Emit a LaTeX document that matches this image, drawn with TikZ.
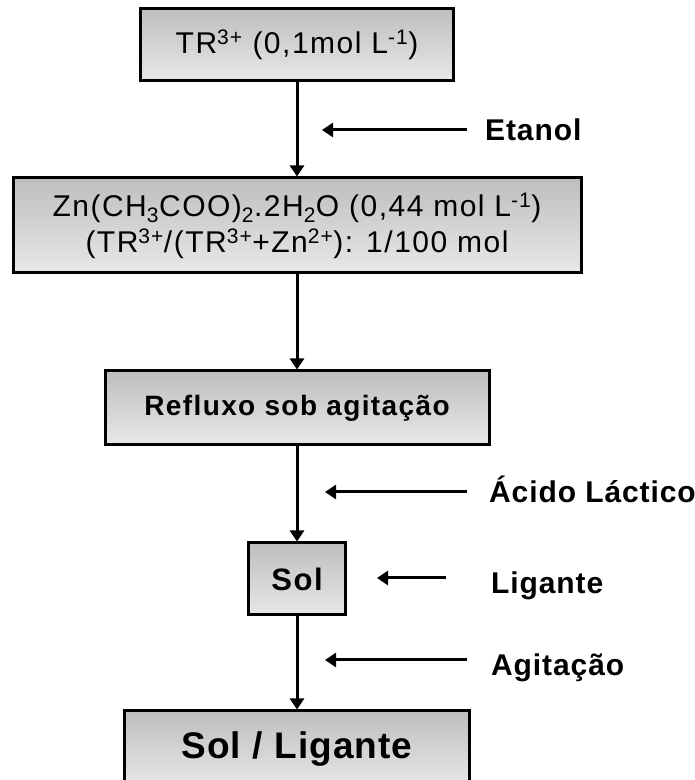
\documentclass[tikz,border=0pt]{standalone}
\usepackage{fontspec}
\setmainfont{Liberation Sans}
\newfontfamily\boxfont[LetterSpace=5]{Liberation Sans}
\newfontfamily\lblfont[LetterSpace=3]{Liberation Sans}
\usetikzlibrary{arrows.meta}
\definecolor{boxtop}{RGB}{190,190,190}
\definecolor{boxbot}{RGB}{232,232,232}
\begin{document}
\begin{tikzpicture}[x=1pt,y=1pt,
  flowbox/.style={draw=black,line width=3pt,top color=boxtop,bottom color=boxbot,
    inner sep=0pt,align=center,font=\boxfont\fontsize{30}{36}\selectfont},
  conn/.style={line width=3pt,-{Triangle[length=11pt,width=14pt]}},
  lbl/.style={anchor=base west,inner sep=0pt,font=\lblfont\bfseries\fontsize{30}{36}\selectfont}]
\useasboundingbox (0,0) rectangle (695,780);
\node[flowbox,minimum width=313pt,minimum height=72pt] (b1) at (297,735)
  {TR\textsuperscript{3+} (0,1mol L\textsuperscript{-1})};
\node[flowbox,minimum width=568pt,minimum height=95pt] (b2) at (297,554.5)
  {Zn(CH\textsubscript{3}COO)\textsubscript{2}.2H\textsubscript{2}O (0,44 mol L\textsuperscript{-1})\\
   (TR\textsuperscript{3+}/(TR\textsuperscript{3+}+Zn\textsuperscript{2+}): 1/100 mol};
\node[flowbox,minimum width=384pt,minimum height=74pt,font=\boxfont\bfseries\fontsize{28}{34}\selectfont] (b3) at (297,372)
  {Refluxo sob agitação};
\node[flowbox,minimum width=97pt,minimum height=72pt,font=\boxfont\bfseries\fontsize{31}{36}\selectfont] (b4) at (297,201)
  {Sol};
\node[flowbox,minimum width=345pt,minimum height=76pt,font=\lblfont\bfseries\fontsize{37}{42}\selectfont] (b5) at (297,31)
  {Sol / Ligante};
\draw[conn] (b1.south) -- (b2.north);
\draw[conn] (b2.south) -- (b3.north);
\draw[conn] (b3.south) -- (b4.north);
\draw[conn] (b4.south) -- (b5.north);
% side inputs
\coordinate (e1) at (467,650); \coordinate (e2) at (322,650);
\draw[conn] (e1) -- (e2);
\node[lbl] (le) at (485,639.5) {Etanol};
\coordinate (a1) at (467,288); \coordinate (a2) at (325,288);
\draw[conn] (a1) -- (a2);
\node[lbl] (la) at (489,277) {Ácido Láctico};
\coordinate (g1) at (446,202); \coordinate (g2) at (377,202);
\draw[conn] (g1) -- (g2);
\node[lbl] (lg) at (491,186) {Ligante};
\coordinate (t1) at (467,120); \coordinate (t2) at (325,120);
\draw[conn] (t1) -- (t2);
\node[lbl] (lt) at (491,104) {Agitação};
\end{tikzpicture}
\end{document}
